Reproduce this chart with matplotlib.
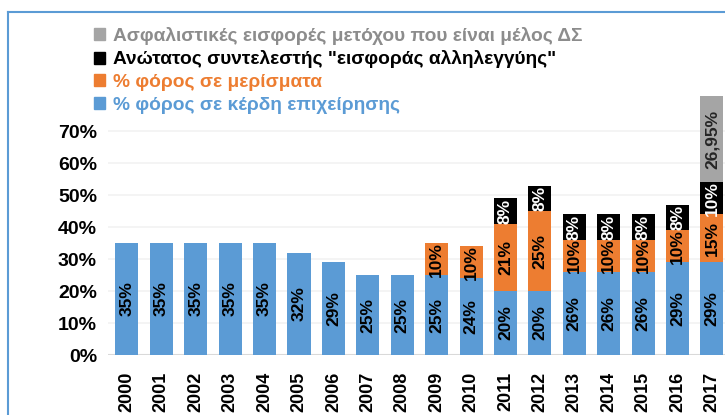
import matplotlib.pyplot as plt
import numpy as np
from matplotlib.patches import Patch
from matplotlib.lines import Line2D

years = [str(y) for y in range(2000, 2018)]
profit_tax = [35, 35, 35, 35, 35, 32, 29, 25, 25, 25, 24, 20, 20, 26, 26, 26, 29, 29]
dividend_tax = [0, 0, 0, 0, 0, 0, 0, 0, 0, 10, 10, 21, 25, 10, 10, 10, 10, 15]
solidarity = [0, 0, 0, 0, 0, 0, 0, 0, 0, 0, 0, 8, 8, 8, 8, 8, 8, 10]
insurance = [0, 0, 0, 0, 0, 0, 0, 0, 0, 0, 0, 0, 0, 0, 0, 0, 0, 26.95]

series_names = [
    "% φόρος σε κέρδη επιχείρησης",
    "% φόρος σε μερίσματα",
    'Ανώτατος συντελεστής "εισφοράς αλληλεγγύης"',
    "Ασφαλιστικές εισφορές μετόχου που είναι μέλος ΔΣ",
]
colors = ["#5b9bd5", "#ed7d31", "#000000", "#a5a5a5"]
label_colors = ["black", "black", "white", "#262626"]
legend_text_colors = ["#5b9bd5", "#ed7d31", "#000000", "#8c8c8c"]

plt.rcParams["font.family"] = ["Liberation Sans", "DejaVu Sans"]

fig = plt.figure(figsize=(7.25, 4.15), dpi=100)
ax = fig.add_axes([108 / 725, 60 / 415, 1 - 108 / 725, 259 / 415])

x = np.arange(len(years))
bottom = np.zeros(len(years))
for vals, col, lcol in zip([profit_tax, dividend_tax, solidarity, insurance], colors, label_colors):
    vals = np.array(vals, dtype=float)
    ax.bar(x, vals, 0.67, bottom=bottom, color=col, zorder=2, clip_on=False)
    for i, v in enumerate(vals):
        if v > 0:
            txt = ("%g%%" % v).replace(".", ",")
            ax.text(x[i], bottom[i] + v / 2, txt, rotation=90, ha="center", va="center",
                    fontsize=12.5, fontweight="bold", color=lcol, zorder=3)
    bottom += vals

ax.set_xlim(-0.55, 17.38)
ax.set_ylim(0, 81)
ax.set_yticks(range(0, 80, 10))
ax.set_yticklabels(["%d%%" % t for t in range(0, 80, 10)], fontsize=14, fontweight="bold")
ax.set_xticks(x)
ax.set_xticklabels(years, rotation=90, fontsize=13, fontweight="bold")
ax.tick_params(length=0, pad=8)
ax.tick_params(axis="x", pad=12)
for t in range(10, 80, 10):
    ax.axhline(t, color="#f2f2f2", lw=1.2, zorder=1)
for s in ax.spines.values():
    s.set_visible(False)
ax.axhline(0, color="#d9d9d9", lw=1.5, zorder=1)

handles = [Patch(color=c) for c in colors][::-1]
leg = fig.legend(handles, series_names[::-1], loc="upper left", bbox_to_anchor=(86 / 725, 1 - 19 / 415),
                 frameon=False, handlelength=0.6, handleheight=0.6, handletextpad=0.4,
                 labelspacing=0.3, borderaxespad=0, labelcolor=legend_text_colors[::-1],
                 prop={"weight": "bold", "size": 13.8})

# blue frame around the picture
fig.add_artist(Line2D([8 / 725, 8 / 725], [0, 1 - 12 / 415], color="#5b9bd5", lw=1.5))
fig.add_artist(Line2D([8 / 725, 1], [1 - 12 / 415, 1 - 12 / 415], color="#5b9bd5", lw=1.5))

fig.savefig("out.png", dpi=100)
